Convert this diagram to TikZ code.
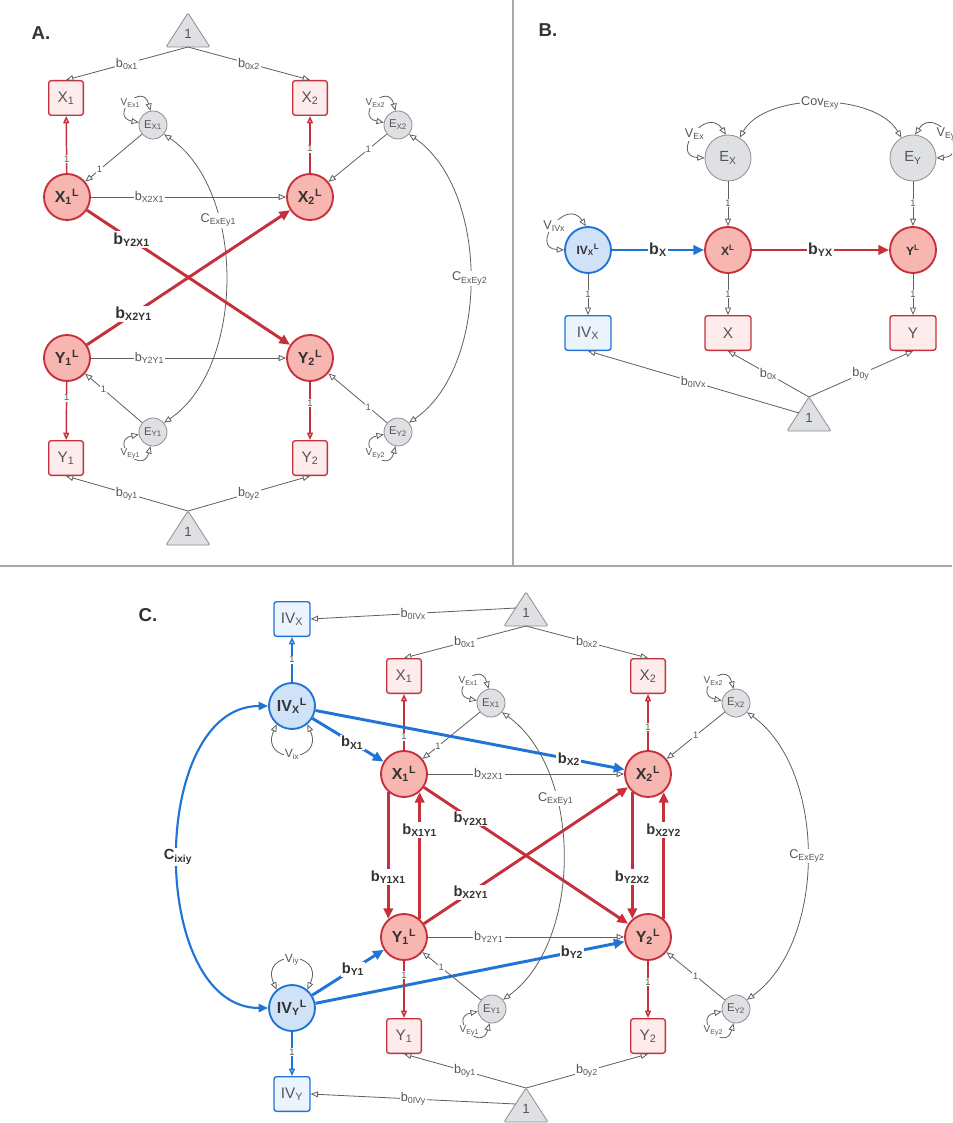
\documentclass[tikz,border=0pt]{standalone}
\usepackage{fontspec}
\setmainfont{Liberation Sans}
\usetikzlibrary{arrows.meta}
\definecolor{redb}{HTML}{C5303A}
\definecolor{redf}{HTML}{F8B6B0}
\definecolor{redl}{HTML}{FDECEB}
\definecolor{blueb}{HTML}{1F74D6}
\definecolor{bluef}{HTML}{CFE2F8}
\definecolor{bluel}{HTML}{EBF3FD}
\definecolor{grayf}{HTML}{DEE0E4}
\definecolor{grayb}{HTML}{8E8E8E}
\definecolor{lineg}{HTML}{5F5F5F}
\definecolor{txtg}{HTML}{555555}
\definecolor{txtd}{HTML}{333333}
\definecolor{framec}{HTML}{A8A8A8}
\newcommand\constri[3]{%
  \draw[trishape] (#2-22,#3+34) -- (#2,#3) -- (#2+22,#3+34) -- cycle;
  \node[trilab] (#1) at (#2,#3+21) {1};
  \coordinate (#1-apex) at (#2,#3);
  \coordinate (#1-base) at (#2,#3+34);
  \coordinate (#1-left) at (#2-10,#3+16);
}
\begin{document}
\begin{tikzpicture}[x=0.75pt,y=-0.75pt,
  opentip/.tip={Triangle[open,length=5.5pt,width=4.5pt]},
  lat/.style={circle, minimum size=34.5pt, inner sep=0pt, line width=1.4pt, font=\bfseries\fontsize{12}{12}\selectfont, text=txtd},
  latred/.style={lat, draw=redb, fill=redf},
  latblue/.style={lat, draw=blueb, fill=bluef},
  latredB/.style={latred, font=\bfseries\fontsize{9}{9}\selectfont},
  latblueB/.style={latblue, font=\bfseries\fontsize{9}{9}\selectfont},
  err/.style={circle, minimum size=21pt, inner sep=0pt, draw=grayb, fill=grayf, line width=0.6pt, font=\fontsize{8.5}{8.5}\selectfont, text=txtg},
  errbig/.style={err, minimum size=34.5pt, font=\fontsize{11}{11}\selectfont},
  obs/.style={rectangle, rounded corners=2pt, minimum width=26pt, minimum height=26pt, inner sep=0pt, line width=1pt, font=\fontsize{11.5}{11.5}\selectfont, text=txtg},
  obsred/.style={obs, draw=redb, fill=redl},
  obsblue/.style={obs, draw=blueb, fill=bluel},
  trishape/.style={draw=grayb, fill=grayf, line width=0.6pt, rounded corners=1pt},
  trilab/.style={inner sep=0pt, font=\fontsize{10}{10}\selectfont, text=txtg},
  gline/.style={draw=lineg, line width=0.6pt, -opentip},
  gboth/.style={draw=lineg, line width=0.6pt, opentip-opentip},
  rthin/.style={draw=redb, line width=1.1pt, -opentip},
  bthin/.style={draw=blueb, line width=1.1pt, -opentip},
  rthick/.style={draw=redb, line width=2.2pt, -{Triangle[length=8pt,width=7pt]}},
  bthick/.style={draw=blueb, line width=2.2pt, -{Triangle[length=8pt,width=7pt]}},
  bboth/.style={draw=blueb, line width=1.6pt, {Triangle[length=7pt,width=6pt]}-{Triangle[length=7pt,width=6pt]}},
  lab/.style={fill=white, inner sep=0.8pt, font=\fontsize{9.5}{9.5}\selectfont, text=txtg},
  vlab/.style={fill=white, inner sep=0.5pt, font=\fontsize{7.5}{7.5}\selectfont, text=txtg},
  vlabm/.style={fill=white, inner sep=0.5pt, font=\fontsize{9}{9}\selectfont, text=txtg},
  onel/.style={fill=white, inner sep=0.6pt, font=\fontsize{7}{7}\selectfont, text=txtg},
  blab/.style={fill=white, inner sep=1pt, font=\bfseries\fontsize{12}{12}\selectfont, text=txtd},
  blabc/.style={fill=white, inner sep=1pt, font=\bfseries\fontsize{11}{11}\selectfont, text=txtd},
  panel/.style={font=\bfseries\fontsize{14}{14}\selectfont, text=txtd},
  frameline/.style={draw=framec, line width=1.1pt}
]
\clip (0,0) rectangle (952,1123);
\fill[white] (0,0) rectangle (952,1123);

% frame
\draw[frameline] (513,0) -- (513,566);
\draw[frameline] (0,566) -- (952,566);

% ================= Panel A
\node[panel] (pA) at (41,33) {A.};
\constri{tA}{188}{13}
\constri{bA}{188}{511}
\node[obsred] (aX1) at (66,98) {X\textsubscript{1}};
\node[obsred] (aX2) at (310,98) {X\textsubscript{2}};
\node[obsred] (aY1) at (66,458) {Y\textsubscript{1}};
\node[obsred] (aY2) at (310,458) {Y\textsubscript{2}};
\node[latred] (aX1L) at (67,197) {X\textsubscript{1}\textsuperscript{L}};
\node[latred] (aX2L) at (310,197) {X\textsubscript{2}\textsuperscript{L}};
\node[latred] (aY1L) at (67,358) {Y\textsubscript{1}\textsuperscript{L}};
\node[latred] (aY2L) at (310,358) {Y\textsubscript{2}\textsuperscript{L}};
\node[err] (aEX1) at (153,125) {E\textsubscript{X1}};
\node[err] (aEX2) at (398,125) {E\textsubscript{X2}};
\node[err] (aEY1) at (153,432) {E\textsubscript{Y1}};
\node[err] (aEY2) at (398,432) {E\textsubscript{Y2}};

\draw[gline] (tA-base) -- node[lab]{b\textsubscript{0x1}} (aX1.north);
\draw[gline] (tA-base) -- node[lab]{b\textsubscript{0x2}} (aX2.north);
\draw[rthin] (aX1L) -- node[onel,pos=0.25]{1} (aX1);
\draw[rthin] (aX2L) -- node[onel,pos=0.43]{1} (aX2);
\draw[gline] (aEX1) -- node[onel,pos=0.75]{1} (aX1L);
\draw[gline] (aEX2) -- node[onel,pos=0.32]{1} (aX2L);
\draw[gline] (aX1L) -- node[lab,pos=0.3]{b\textsubscript{X2X1}} (aX2L);
\draw[gline] (aY1L) -- node[lab,pos=0.3]{b\textsubscript{Y2Y1}} (aY2L);
\draw[gboth] (aEX1.-40) .. controls (246,190) and (246,367) .. node[lab,pos=0.33]{C\textsubscript{ExEy1}} (aEY1.40);
\draw[gboth] (aEX2.-40) .. controls (490,190) and (490,367) .. node[lab,pos=0.5]{C\textsubscript{ExEy2}} (aEY2.40);
\draw[rthick] (aX1L) -- node[blab,pos=0.22]{b\textsubscript{Y2X1}} (aY2L);
\draw[rthick] (aY1L) -- node[blab,pos=0.23]{b\textsubscript{X2Y1}} (aX2L);
\draw[rthin] (aY1L) -- node[onel,pos=0.27]{1} (aY1);
\draw[rthin] (aY2L) -- node[onel,pos=0.37]{1} (aY2);
\draw[gline] (aEY1) -- node[onel,pos=0.68]{1} (aY1L);
\draw[gline] (aEY2) -- node[onel,pos=0.32]{1} (aY2L);
\draw[gline] (bA-apex) -- node[lab]{b\textsubscript{0y1}} (aY1.south);
\draw[gline] (bA-apex) -- node[lab]{b\textsubscript{0y2}} (aY2.south);
\draw[gboth] (aEX1.170) .. controls +(-30,-6) and +(-8,-30) .. node[vlab]{V\textsubscript{Ex1}} (aEX1.100);
\draw[gboth] (aEX2.170) .. controls +(-30,-6) and +(-8,-30) .. node[vlab]{V\textsubscript{Ex2}} (aEX2.100);
\draw[gboth] (aEY1.190) .. controls +(-30,6) and +(-8,30) .. node[vlab]{V\textsubscript{Ey1}} (aEY1.260);
\draw[gboth] (aEY2.190) .. controls +(-30,6) and +(-8,30) .. node[vlab]{V\textsubscript{Ey2}} (aEY2.260);

% ================= Panel B
\node[panel] (pB) at (548,30) {B.};
\node[errbig] (bEX) at (728,158) {E\textsubscript{X}};
\node[errbig] (bEY) at (913,158) {E\textsubscript{Y}};
\node[latblueB] (bIVL) at (588,250) {IV\textsubscript{X}\textsuperscript{L}};
\node[latredB] (bXL) at (728,250) {X\textsuperscript{L}};
\node[latredB] (bYL) at (913,250) {Y\textsuperscript{L}};
\node[obsblue, minimum width=34.5pt] (bIV) at (588,333) {IV\textsubscript{X}};
\node[obsred, minimum width=34.5pt] (bX) at (728,333) {X};
\node[obsred, minimum width=34.5pt] (bY) at (913,333) {Y};
\constri{tB}{809}{397}

\draw[gline] (bEX) -- node[onel,pos=0.48]{1} (bXL);
\draw[gline] (bEY) -- node[onel,pos=0.48]{1} (bYL);
\draw[bthick] (bIVL) -- node[blab]{b\textsubscript{X}} (bXL);
\draw[rthick] (bXL) -- node[blab]{b\textsubscript{YX}} (bYL);
\draw[gline] (bIVL) -- node[onel]{1} (bIV);
\draw[gline] (bXL) -- node[onel]{1} (bX);
\draw[gline] (bYL) -- node[onel]{1} (bY);
\draw[gline] (tB-apex) -- node[lab]{b\textsubscript{0x}} (bX.south);
\draw[gline] (tB-apex) -- node[lab]{b\textsubscript{0y}} (bY.south);
\draw[gline] (tB-left) -- node[lab]{b\textsubscript{0IVx}} (bIV.south);
\draw[gboth] (bEX.60) .. controls (765,92) and (875,92) .. node[lab]{Cov\textsubscript{Exy}} (bEY.120);
\draw[gboth] (bEX.180) .. controls +(-35,-2) and +(-20,-30) .. node[lab]{V\textsubscript{Ex}} (bEX.95);
\draw[gboth] (bEY.85) .. controls +(20,-30) and +(35,-2) .. node[lab]{V\textsubscript{Ey}} (bEY.0);
\draw[gboth] (bIVL.180) .. controls +(-35,-2) and +(-20,-30) .. node[lab]{V\textsubscript{IVx}} (bIVL.95);

% ================= Panel C
\node[panel] (pC) at (148,615) {C.};
\node[obsblue, minimum width=27pt] (cIVX) at (292,619) {IV\textsubscript{X}};
\node[obsblue, minimum width=27pt] (cIVY) at (292,1094) {IV\textsubscript{Y}};
\node[latblue] (cIVXL) at (292,706) {IV\textsubscript{X}\textsuperscript{L}};
\node[latblue] (cIVYL) at (292,1008) {IV\textsubscript{Y}\textsuperscript{L}};
\constri{tC}{526}{592}
\constri{bC}{526}{1088}
\node[obsred] (cX1) at (404,676) {X\textsubscript{1}};
\node[obsred] (cX2) at (648,676) {X\textsubscript{2}};
\node[obsred] (cY1) at (404,1036) {Y\textsubscript{1}};
\node[obsred] (cY2) at (648,1036) {Y\textsubscript{2}};
\node[latred] (cX1L) at (404,774) {X\textsubscript{1}\textsuperscript{L}};
\node[latred] (cX2L) at (648,774) {X\textsubscript{2}\textsuperscript{L}};
\node[latred] (cY1L) at (404,937) {Y\textsubscript{1}\textsuperscript{L}};
\node[latred] (cY2L) at (648,937) {Y\textsubscript{2}\textsuperscript{L}};
\node[err] (cEX1) at (491,703) {E\textsubscript{X1}};
\node[err] (cEX2) at (736,703) {E\textsubscript{X2}};
\node[err] (cEY1) at (492,1009) {E\textsubscript{Y1}};
\node[err] (cEY2) at (736,1009) {E\textsubscript{Y2}};

\draw[gline] (tC-left) -- node[lab]{b\textsubscript{0IVx}} (cIVX.east);
\draw[gline] (tC-base) -- node[lab]{b\textsubscript{0x1}} (cX1.north);
\draw[gline] (tC-base) -- node[lab]{b\textsubscript{0x2}} (cX2.north);
\draw[bthin] (cIVXL) -- node[onel,pos=0.5]{1} (cIVX);
\draw[rthin] (cX1L) -- node[onel,pos=0.24]{1} (cX1);
\draw[rthin] (cX2L) -- node[onel,pos=0.41]{1} (cX2);
\draw[gline] (cEX1) -- node[onel,pos=0.73]{1} (cX1L);
\draw[gline] (cEX2) -- node[onel,pos=0.5]{1} (cX2L);
\draw[gline] (cX1L) -- node[lab,pos=0.31]{b\textsubscript{X2X1}} (cX2L);
\draw[gline] (cY1L) -- node[lab,pos=0.31]{b\textsubscript{Y2Y1}} (cY2L);
\draw[gboth] (cEX1.-40) .. controls (583,770) and (583,942) .. node[lab,pos=0.33]{C\textsubscript{ExEy1}} (cEY1.40);
\draw[gboth] (cEX2.-40) .. controls (827,770) and (827,942) .. node[lab,pos=0.5]{C\textsubscript{ExEy2}} (cEY2.40);
\draw[bthick] (cIVXL) -- node[blabc,pos=0.56]{b\textsubscript{X1}} (cX1L);
\draw[bthick] (cIVXL) -- node[blabc,pos=0.82]{b\textsubscript{X2}} (cX2L);
\draw[bthick] (cIVYL) -- node[blabc,pos=0.57]{b\textsubscript{Y1}} (cY1L);
\draw[bthick] (cIVYL) -- node[blabc,pos=0.83]{b\textsubscript{Y2}} (cY2L);
\draw[rthick] (cX1L) -- node[blabc,pos=0.23]{b\textsubscript{Y2X1}} (cY2L);
\draw[rthick] (cY1L) -- node[blabc,pos=0.23]{b\textsubscript{X2Y1}} (cX2L);
\draw[rthick] (cX1L.-131) -- node[blabc,pos=0.67]{b\textsubscript{Y1X1}} (cY1L.131);
\draw[rthick] (cY1L.49) -- node[blabc,pos=0.7]{b\textsubscript{X1Y1}} (cX1L.-49);
\draw[rthick] (cX2L.-131) -- node[blabc,pos=0.67]{b\textsubscript{Y2X2}} (cY2L.131);
\draw[rthick] (cY2L.49) -- node[blabc,pos=0.7]{b\textsubscript{X2Y2}} (cX2L.-49);
\draw[rthin] (cY1L) -- node[onel,pos=0.25]{1} (cY1);
\draw[rthin] (cY2L) -- node[onel,pos=0.37]{1} (cY2);
\draw[gline] (cEY1) -- node[onel,pos=0.68]{1} (cY1L);
\draw[gline] (cEY2) -- node[onel,pos=0.5]{1} (cY2L);
\draw[gline] (bC-apex) -- node[lab]{b\textsubscript{0y1}} (cY1.south);
\draw[gline] (bC-apex) -- node[lab]{b\textsubscript{0y2}} (cY2.south);
\draw[gline] (bC-left) -- node[lab]{b\textsubscript{0IVy}} (cIVY.east);
\draw[bthin] (cIVYL) -- node[onel,pos=0.46]{1} (cIVY);
\draw[bboth] (cIVXL.west) .. controls (148,706) and (148,1008) .. node[blabc]{C\textsubscript{ixiy}} (cIVYL.west);
\draw[gboth] (cIVXL.-130) .. controls +(-18,40) and +(18,40) .. node[vlabm]{V\textsubscript{ix}} (cIVXL.-50);
\draw[gboth] (cIVYL.130) .. controls +(-18,-40) and +(18,-40) .. node[vlabm]{V\textsubscript{iy}} (cIVYL.50);
\draw[gboth] (cEX1.170) .. controls +(-30,-6) and +(-8,-30) .. node[vlab]{V\textsubscript{Ex1}} (cEX1.100);
\draw[gboth] (cEX2.170) .. controls +(-30,-6) and +(-8,-30) .. node[vlab]{V\textsubscript{Ex2}} (cEX2.100);
\draw[gboth] (cEY1.190) .. controls +(-30,6) and +(-8,30) .. node[vlab]{V\textsubscript{Ey1}} (cEY1.260);
\draw[gboth] (cEY2.190) .. controls +(-30,6) and +(-8,30) .. node[vlab]{V\textsubscript{Ey2}} (cEY2.260);
\end{tikzpicture}
\end{document}
